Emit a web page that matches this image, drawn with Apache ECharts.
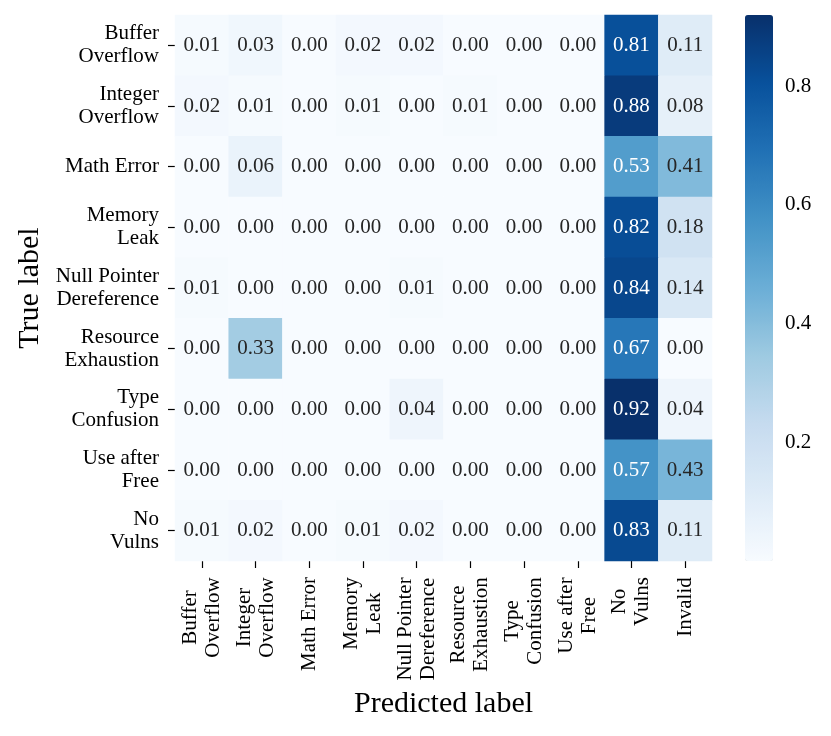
<!DOCTYPE html>
<html>
<head>
<meta charset="utf-8">
<script src="https://cdn.jsdelivr.net/npm/echarts@6/dist/echarts.min.js"></script>
<style>
html, body { margin: 0; background: #fff; }
#main { width: 831px; height: 736px; }
</style>
</head>
<body>
<div id="main"></div>
<script>
// rows = true label, columns = predicted label
var trueLabels = ['Buffer\nOverflow', 'Integer\nOverflow', 'Math Error', 'Memory\nLeak',
    'Null Pointer\nDereference', 'Resource\nExhaustion', 'Type\nConfusion', 'Use after\nFree', 'No\nVulns'];
var predLabels = ['Buffer\nOverflow', 'Integer\nOverflow', 'Math Error', 'Memory\nLeak',
    'Null Pointer\nDereference', 'Resource\nExhaustion', 'Type\nConfusion', 'Use after\nFree', 'No\nVulns', 'Invalid'];

var rowBuffer   = [0.01, 0.03, 0.00, 0.02, 0.02, 0.00, 0.00, 0.00, 0.81, 0.11];
var rowInteger  = [0.02, 0.01, 0.00, 0.01, 0.00, 0.01, 0.00, 0.00, 0.88, 0.08];
var rowMath     = [0.00, 0.06, 0.00, 0.00, 0.00, 0.00, 0.00, 0.00, 0.53, 0.41];
var rowMemory   = [0.00, 0.00, 0.00, 0.00, 0.00, 0.00, 0.00, 0.00, 0.82, 0.18];
var rowNull     = [0.01, 0.00, 0.00, 0.00, 0.01, 0.00, 0.00, 0.00, 0.84, 0.14];
var rowResource = [0.00, 0.33, 0.00, 0.00, 0.00, 0.00, 0.00, 0.00, 0.67, 0.00];
var rowType     = [0.00, 0.00, 0.00, 0.00, 0.04, 0.00, 0.00, 0.00, 0.92, 0.04];
var rowUse      = [0.00, 0.00, 0.00, 0.00, 0.00, 0.00, 0.00, 0.00, 0.57, 0.43];
var rowNoVulns  = [0.01, 0.02, 0.00, 0.01, 0.02, 0.00, 0.00, 0.00, 0.83, 0.11];
var matrix = [rowBuffer, rowInteger, rowMath, rowMemory, rowNull, rowResource, rowType, rowUse, rowNoVulns];

var colorbarTicks = [0.2, 0.4, 0.6, 0.8];
var vMin = 0, vMax = 0.92;

// matplotlib "Blues"
var blues = ['#f7fbff', '#deebf7', '#c6dbef', '#9ecae1', '#6baed6', '#4292c6', '#2171b5', '#08519c', '#08306b'];

var FONT = '"Liberation Serif", "Times New Roman", serif';
var FS = 21;

var data = [];
matrix.forEach(function (row, r) {
    row.forEach(function (v, c) {
        data.push({
            value: [c, r, v],
            label: { color: v > 0.47 ? '#ffffff' : '#262626' }
        });
    });
});

// x labels: lines centred on each other, like matplotlib
var ctx = document.createElement('canvas').getContext('2d');
ctx.font = FS + 'px ' + FONT;
var xRich = {};
predLabels.forEach(function (lab, i) {
    var w = 0;
    lab.split('\n').forEach(function (s) { w = Math.max(w, ctx.measureText(s).width); });
    xRich['c' + i] = { width: Math.ceil(w), align: 'center', fontSize: FS, fontFamily: FONT, color: '#000', lineHeight: 23 };
});

var myChart = echarts.init(document.getElementById('main'));

var option = {
    animation: false,
    textStyle: { fontFamily: FONT },
    grid: [
        { left: 175, top: 15, width: 537, height: 546 },
        { left: 745, top: 15, width: 28, height: 546 }
    ],
    xAxis: [
        {
            type: 'category',
            data: predLabels,
            gridIndex: 0,
            axisLine: { show: false },
            axisTick: { show: true, alignWithLabel: true, length: 7, lineStyle: { color: '#000', width: 1.2 } },
            axisLabel: {
                rotate: 90,
                margin: 16,
                interval: 0,
                formatter: function (v, i) {
                    return v.split('\n').map(function (s) { return '{c' + i + '|' + s + '}'; }).join('\n');
                },
                rich: xRich
            },
            splitLine: { show: false },
            name: 'Predicted label',
            nameLocation: 'middle',
            nameGap: 124,
            nameTextStyle: { fontSize: 30, color: '#000', fontFamily: FONT }
        },
        { type: 'value', gridIndex: 1, show: false, min: 0, max: 1 }
    ],
    yAxis: [
        {
            type: 'category',
            data: trueLabels,
            inverse: true,
            gridIndex: 0,
            axisLine: { show: false },
            axisTick: { show: true, alignWithLabel: true, length: 7, lineStyle: { color: '#000', width: 1.2 } },
            axisLabel: { margin: 16, interval: 0, fontSize: FS, color: '#000', lineHeight: 23, fontFamily: FONT },
            splitLine: { show: false },
            name: 'True label',
            nameLocation: 'middle',
            nameGap: 128,
            nameTextStyle: { fontSize: 30, color: '#000', fontFamily: FONT }
        },
        {
            type: 'value',
            gridIndex: 1,
            position: 'right',
            min: vMin,
            max: vMax,
            axisLine: { show: false },
            axisTick: { show: true, length: 7, customValues: colorbarTicks, lineStyle: { color: '#000', width: 1.2 } },
            axisLabel: {
                margin: 12, fontSize: FS, color: '#000', fontFamily: FONT,
                customValues: colorbarTicks,
                formatter: function (v) { return v.toFixed(1); }
            },
            splitLine: { show: false }
        }
    ],
    visualMap: {
        type: 'continuous',
        min: vMin,
        max: vMax,
        calculable: false,
        orient: 'vertical',
        left: 745,
        top: 15,
        padding: 0,
        itemWidth: 28,
        itemHeight: 546,
        text: null,
        seriesIndex: 0,
        inRange: { color: blues }
    },
    series: [{
        type: 'heatmap',
        xAxisIndex: 0,
        yAxisIndex: 0,
        data: data,
        label: {
            show: true,
            fontSize: FS,
            fontFamily: FONT,
            formatter: function (p) { return p.value[2].toFixed(2); }
        },
        emphasis: { disabled: true }
    }]
};

myChart.setOption(option);
</script>
</body>
</html>
